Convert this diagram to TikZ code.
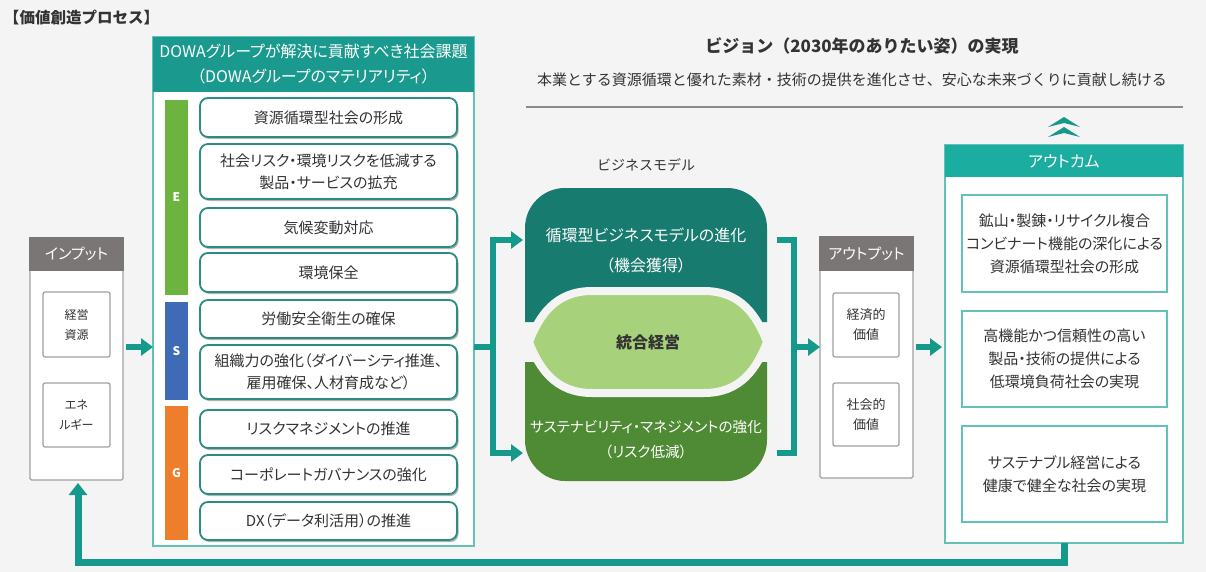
\documentclass[tikz,border=0pt]{standalone}
\usepackage{fontspec}
\setmainfont{Noto Sans CJK JP}
\newfontfamily\pf[RawFeature=+palt]{Noto Sans CJK JP}
\usetikzlibrary{arrows.meta,shadows}
\definecolor{bg}{HTML}{F4F4F4}
\definecolor{tealH}{HTML}{1A9A8E}
\definecolor{tealO}{HTML}{1BADA0}
\definecolor{tealL}{HTML}{62C2B7}
\definecolor{itemc}{HTML}{2B8C80}
\definecolor{arrowC}{HTML}{14998B}
\definecolor{grayh}{HTML}{7A7675}
\definecolor{grayb}{HTML}{A0A0A0}
\definecolor{eG}{HTML}{6DB33F}
\definecolor{sB}{HTML}{3E6AB6}
\definecolor{gO}{HTML}{EE7D2C}
\definecolor{bmT}{HTML}{177B70}
\definecolor{bmL}{HTML}{A7D17B}
\definecolor{bmB}{HTML}{4F8A35}
\definecolor{txt}{HTML}{333333}
\definecolor{rule}{HTML}{8A8A8A}
\begin{document}
\begin{tikzpicture}[x=1pt,y=-1pt,
  every node/.style={inner sep=0pt, outer sep=0pt},
  item/.style={draw=itemc, line width=1.8pt, rounded corners=8pt, fill=white,
    minimum width=257pt, anchor=north west, align=center, text=txt,
    font=\pf\fontsize{15}{22}\selectfont,
    drop shadow={shadow xshift=1.5pt, shadow yshift=-2pt, fill=black, opacity=0.3}},
  bar/.style={anchor=north west, minimum width=23pt, text=white, font=\bfseries\fontsize{12}{14}\selectfont},
  gbox/.style={draw=grayb, line width=1.2pt, fill=white, anchor=north west, rounded corners=1.5pt},
  ghead/.style={fill=grayh, draw=grayh, line width=1.2pt, text=white, anchor=north west, font=\pf\fontsize{15}{18}\selectfont},
  sbox/.style={draw=grayb, line width=1.2pt, fill=white, anchor=north west, rounded corners=2pt, align=center, text=txt},
  tbox/.style={draw=tealL, line width=1.5pt, fill=white, anchor=north west},
  thead/.style={text=white, anchor=north west},
  obox/.style={draw=tealL, line width=1.5pt, fill=white, anchor=north west, minimum width=205pt,
    align=center, text=txt, font=\pf\fontsize{15}{23}\selectfont},
  ln/.style={draw=arrowC, line width=6.5pt},
  arr/.style={draw=arrowC, line width=6.5pt, -{Triangle[width=17pt,length=12pt]}},
  arr2/.style={draw=arrowC, line width=6.5pt, {Triangle[width=17pt,length=12pt]}-{Triangle[width=17pt,length=12pt]}},
]
\useasboundingbox (0,0) rectangle (1206,572);
\fill[bg] (0,0) rectangle (1206,572);

% title
\node[anchor=west, text=txt, font=\bfseries\fontsize{15.5}{18}\selectfont] (ttl) at (4,18) {【価値創造プロセス】};

% vision
\node[text=txt, font=\bfseries\fontsize{17}{20}\selectfont] (vis) at (862,46) {ビジョン（2030年のありたい姿）の実現};
\node[text=txt, font=\fontsize{15}{18}\selectfont] (sub) at (852,80) {本業とする資源循環と優れた素材・技術の提供を進化させ、安心な未来づくりに貢献し続ける};
\draw[rule, line width=1.5pt] (526,107) -- (1183,107);
\fill[arrowC] (1048,127) -- (1064,117) -- (1080,127) -- (1064,123) -- cycle;
\fill[arrowC] (1048,137) -- (1064,127) -- (1080,137) -- (1064,133) -- cycle;

% input
\node[gbox, minimum width=93pt, minimum height=242pt] (inp) at (30,238) {};
\node[ghead, minimum width=93pt, minimum height=32pt] (inph) at (30,238) {インプット};
\node[sbox, minimum width=67pt, minimum height=65pt, font=\pf\fontsize{12}{20}\selectfont] (in1) at (43,292) {経営\\資源};
\node[sbox, minimum width=67pt, minimum height=64pt, font=\pf\fontsize{12}{20}\selectfont] (in2) at (43,383) {エネ\\ルギー};

% materiality
\node[tbox, minimum width=321pt, minimum height=509pt] (mat) at (153,37) {};
\node[thead, fill=tealH, minimum width=321pt, minimum height=55pt, align=center,
  font=\pf\fontsize{16}{25}\selectfont] (math) at (153,37) {DOWAグループが解決に貢献すべき社会課題\\（DOWAグループのマテリアリティ）};
\node[bar, fill=eG, minimum height=195pt] (barE) at (165,100) {E};
\node[bar, fill=sB, minimum height=98pt] (barS) at (165,302) {S};
\node[bar, fill=gO, minimum height=134pt] (barG) at (165,406) {G};

\node[item, minimum height=39pt] (i1) at (200,98) {資源循環型社会の形成};
\node[item, minimum height=55pt] (i2) at (200,144) {社会リスク・環境リスクを低減する\\製品・サービスの拡充};
\node[item, minimum height=39pt] (i3) at (200,208) {気候変動対応};
\node[item, minimum height=39pt] (i4) at (200,253) {環境保全};
\node[item, minimum height=38pt] (i5) at (200,300) {労働安全衛生の確保};
\node[item, minimum height=54pt] (i6) at (200,345) {組織力の強化（ダイバーシティ推進、\\雇用確保、人材育成など）};
\node[item, minimum height=38pt] (i7) at (200,410) {リスクマネジメントの推進};
\node[item, minimum height=39pt] (i8) at (200,455) {コーポレートガバナンスの強化};
\node[item, minimum height=38pt] (i9) at (200,502) {DX（データ利活用）の推進};

% business model
\node[text=txt, font=\fontsize{14}{16}\selectfont] (bmh) at (646,165) {ビジネスモデル};
\fill[bmT] (525,322) -- (525,228) .. controls (525,205.9) and (542.9,188) .. (565,188)
  -- (727,188) .. controls (749.1,188) and (767,205.9) .. (767,228) -- (767,322) -- cycle;
\fill[bmB] (525,362) -- (767,362) -- (767,440) .. controls (767,462.1) and (749.1,481) .. (727,481)
  -- (565,481) .. controls (542.9,481) and (525,462.1) .. (525,440) -- cycle;
\filldraw[fill=bmL, draw=bg, line width=8pt, line join=round]
  (529,342) .. controls (539,316) and (555,291) .. (592,291) -- (704,291)
  .. controls (741,291) and (757,316) .. (767,342)
  .. controls (757,368) and (741,393) .. (704,393) -- (592,393)
  .. controls (555,393) and (539,368) .. (529,342) -- cycle;
\node[text=white, align=center, font=\pf\fontsize{16}{30}\selectfont] (bmt) at (646,250) {循環型ビジネスモデルの進化\\（機会獲得）};
\node[text=txt, font=\pf\bfseries\fontsize{16}{20}\selectfont] (bml) at (648,342) {統合経営};
\node[text=white, align=center, font=\pf\fontsize{14.6}{25}\selectfont] (bmb) at (646,440) {サステナビリティ・マネジメントの強化\\（リスク低減）};

% output
\node[gbox, minimum width=93pt, minimum height=241pt] (outp) at (820,237) {};
\node[ghead, minimum width=93pt, minimum height=33pt] (outph) at (820,237) {アウトプット};
\node[sbox, minimum width=66pt, minimum height=64pt, font=\pf\fontsize{13}{20}\selectfont] (o1) at (833,293) {経済的\\価値};
\node[sbox, minimum width=66pt, minimum height=63pt, font=\pf\fontsize{13}{20}\selectfont] (o2) at (833,383) {社会的\\価値};

% outcome
\node[tbox, minimum width=238pt, minimum height=398pt] (outc) at (945,145) {};
\node[thead, fill=tealO, minimum width=238pt, minimum height=32pt, font=\pf\fontsize{16}{18}\selectfont] (outch) at (945,145) {アウトカム};
\node[obox, minimum height=97pt] (c1) at (962,195) {鉱山・製錬・リサイクル複合\\コンビナート機能の深化による\\資源循環型社会の形成};
\node[obox, minimum height=96pt] (c2) at (962,311) {高機能かつ信頼性の高い\\製品・技術の提供による\\低環境負荷社会の実現};
\node[obox, minimum height=96pt] (c3) at (962,426) {サステナブル経営による\\健康で健全な社会の実現};

% connectors
\coordinate (bm) at (0,347);
\coordinate (brx) at (493,0);
\coordinate (t1) at (523,240);
\coordinate (t2) at (523,453);
\coordinate (r1) at (777,240);
\coordinate (r2) at (777,453);
\coordinate (rbx) at (794,0);
\coordinate (fbx) at (1064,0);
\coordinate (fby) at (0,562);
\coordinate (inx) at (78,0);

\draw[arr, shorten <=3pt] (inp.east |- bm) -- (mat.west |- bm);
\draw[ln] (mat.east |- bm) -- (brx |- bm);
\draw[arr2] (t1) -- (t1 -| brx) -- (t2 -| brx) -- (t2);
\draw[ln] (r1) -- (r1 -| rbx) -- (r2 -| rbx) -- (r2);
\draw[arr, shorten <=-3.25pt] (rbx |- bm) -- (outp.west |- bm);
\draw[arr, shorten <=3pt, shorten >=3pt] (outp.east |- bm) -- (outc.west |- bm);
\draw[draw=arrowC, line width=7pt, -{Triangle[width=18pt,length=12pt]}, shorten >=3pt]
  (outc.south -| fbx) -- (fbx |- fby) -- (inx |- fby) -- (inp.south -| inx);
\end{tikzpicture}
\end{document}
